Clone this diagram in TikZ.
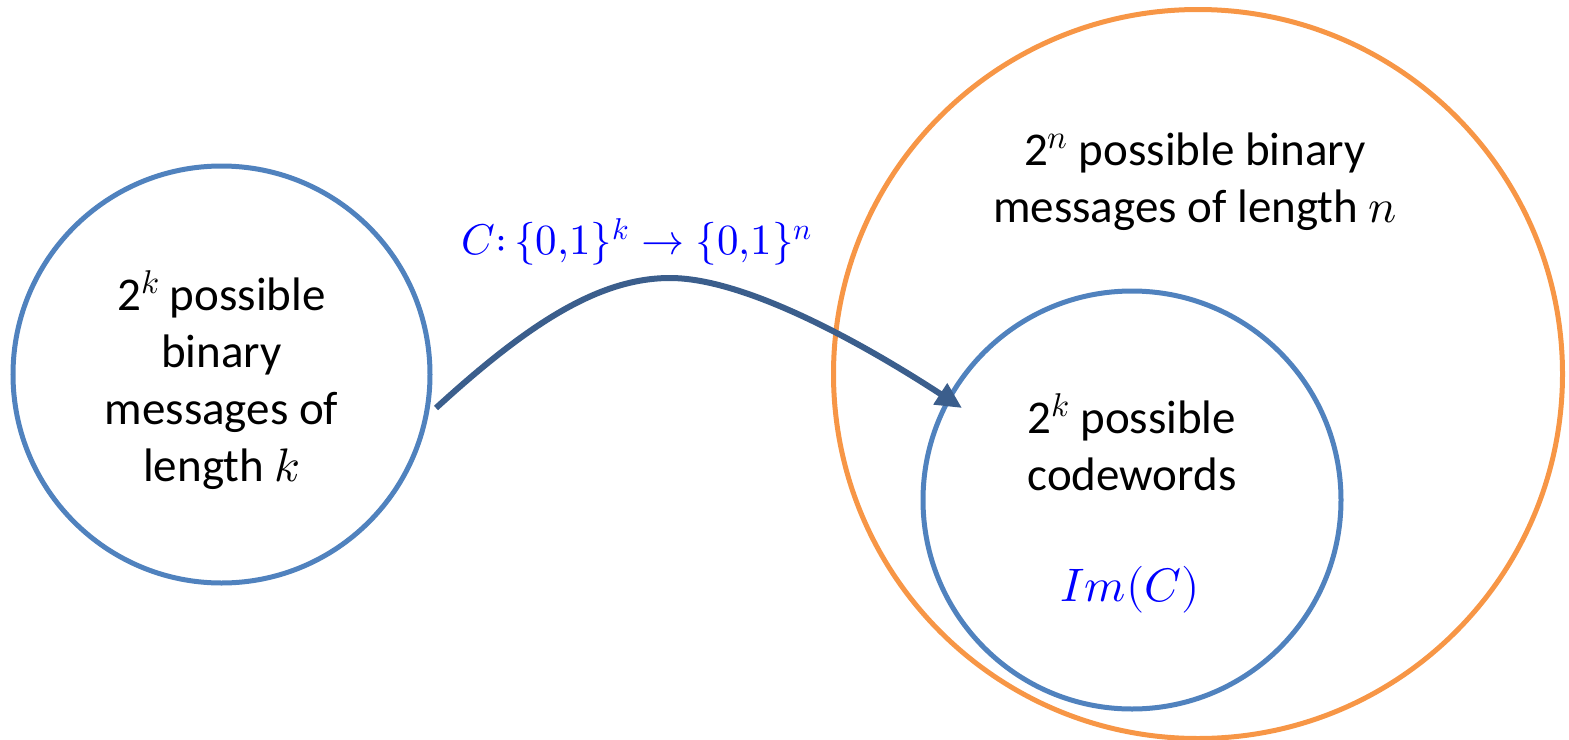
\documentclass[tikz,border=0pt]{standalone}
\usepackage{fontspec}
\usepackage{unicode-math}
\setmainfont{Carlito}
\setmathfont{Latin Modern Math}
\usetikzlibrary{arrows.meta}
\definecolor{cblue}{HTML}{5082BE}
\definecolor{corange}{HTML}{F79646}
\definecolor{carrow}{HTML}{3B5E8C}
\definecolor{tblue}{HTML}{0000FF}
\begin{document}
\begin{tikzpicture}[x=1pt,y=-1pt,
  ring/.style={circle,draw=#1,line width=5pt,inner sep=0pt},
  lbl/.style={align=center,font=\fontsize{47}{57}\selectfont,inner sep=0pt},
  mlbl/.style={font=\fontsize{47}{57}\selectfont,text=tblue,inner sep=0pt}]
\useasboundingbox (0,0) rectangle (1569,739);
\node[ring=cblue,minimum size=417pt] (left) at (221.5,374.5) {};
\node[ring=corange,minimum size=729pt] (outer) at (1198,374) {};
\node[ring=cblue,minimum size=418pt] (inner) at (1132,500) {};
\node[lbl] (lt) at (221.5,380) {2$^{k}$ possible\\binary\\messages of\\length $k$};
\node[lbl] (rt) at (1195,182) {2$^{n}$ possible binary\\messages of length $n$};
\node[lbl] (it) at (1132,442) {2$^{k}$ possible\\codewords};
\node[mlbl] (im) at (1130,590) {$Im(C)$};
\node[mlbl,font=\fontsize{43}{52}\selectfont] (map) at (637,242) {$C{:}\,\{0{,}1\}^k\rightarrow\{0{,}1\}^n$};
\coordinate (s) at (436,408);
\coordinate (t) at (962,408);
\draw[carrow,line width=6pt,-{Triangle[length=26pt,width=24pt]}]
  (s) .. controls (530,322) and (600,278) .. (670,278)
      .. controls (740,278) and (850,335) .. (t);
\end{tikzpicture}
\end{document}
